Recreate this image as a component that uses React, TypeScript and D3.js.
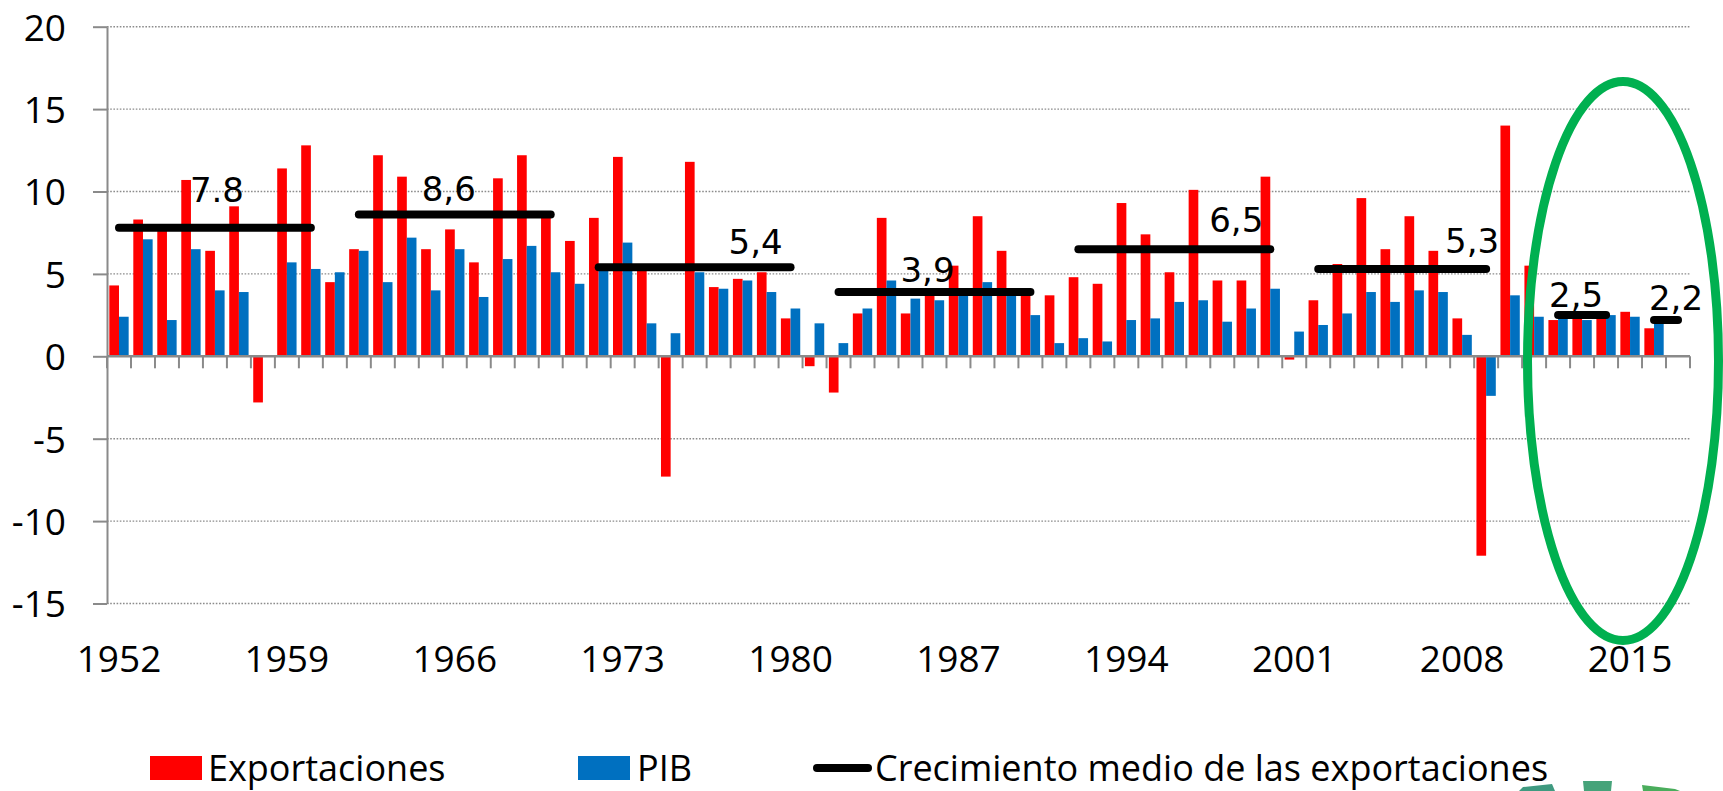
import React, { useRef, useEffect } from "react"
import * as d3 from "d3"

// categories
const years = [
  "1952", "1953", "1954", "1955", "1956", "1957", "1958", "1959", "1960", "1961",
  "1962", "1963", "1964", "1965", "1966", "1967", "1968", "1969", "1970", "1971",
  "1972", "1973", "1974", "1975", "1976", "1977", "1978", "1979", "1980", "1981",
  "1982", "1983", "1984", "1985", "1986", "1987", "1988", "1989", "1990", "1991",
  "1992", "1993", "1994", "1995", "1996", "1997", "1998", "1999", "2000", "2001",
  "2002", "2003", "2004", "2005", "2006", "2007", "2008", "2009", "2010", "2011",
  "2012", "2013", "2014", "2015", "2016", "2017",
]

// series values (% growth)
const exportaciones: (number | null)[] = [
  4.3, 8.3, 7.6, 10.7, 6.4, 9.1, -2.8, 11.4, 12.8, 4.5,
  6.5, 12.2, 10.9, 6.5, 7.7, 5.7, 10.8, 12.2, 8.4, 7.0,
  8.4, 12.1, 5.2, -7.3, 11.8, 4.2, 4.7, 5.1, 2.3, -0.6,
  -2.2, 2.6, 8.4, 2.6, 3.7, 5.5, 8.5, 6.4, 3.7, 3.7,
  4.8, 4.4, 9.3, 7.4, 5.1, 10.1, 4.6, 4.6, 10.9, -0.2,
  3.4, 5.6, 9.6, 6.5, 8.5, 6.4, 2.3, -12.1, 14.0, 5.5,
  2.2, 2.3, 2.3, 2.7, 1.7, null,
]

const pib: (number | null)[] = [
  2.4, 7.1, 2.2, 6.5, 4.0, 3.9, null, 5.7, 5.3, 5.1,
  6.4, 4.5, 7.2, 4.0, 6.5, 3.6, 5.9, 6.7, 5.1, 4.4,
  5.2, 6.9, 2.0, 1.4, 5.1, 4.1, 4.6, 3.9, 2.9, 2.0,
  0.8, 2.9, 4.6, 3.5, 3.4, 3.7, 4.5, 3.8, 2.5, 0.8,
  1.1, 0.9, 2.2, 2.3, 3.3, 3.4, 2.1, 2.9, 4.1, 1.5,
  1.9, 2.6, 3.9, 3.3, 4.0, 3.9, 1.3, -2.4, 3.7, 2.4,
  2.3, 2.2, 2.5, 2.4, 2.0, null,
]

// average export growth per period
const mediaInicio = ["1952", "1962", "1972", "1982", "1992", "2002", "2012", "2016"]
const mediaFin = ["1960", "1970", "1980", "1990", "2000", "2009", "2014", "2017"]
const mediaValor = [7.8, 8.6, 5.4, 3.9, 6.5, 5.3, 2.5, 2.2]
const mediaEtiqueta = ["7.8", "8,6", "5,4", "3,9", "6,5", "5,3", "2,5", "2,2"]
const mediaEtiquetaAnio = ["1956", "1966", "1979", "1986", "1999", "2008", "2013", "2017"]

// tick labels
const yTicks = [-15, -10, -5, 0, 5, 10, 15, 20]
const xTickLabels = ["1952", "1959", "1966", "1973", "1980", "1987", "1994", "2001", "2008", "2015"]

const legendLabels = ["Exportaciones", "PIB", "Crecimiento medio de las exportaciones"]

// label nudges (layout only), [dx, dy from line]
const labelNudge = [[2, -26], [-6, -14], [-11, -13], [-7, -10], [-10, -17], [10, -16], [-6, -8], [-2, -10]]

const W = 1723
const H = 791
const RED = "#FF0000"
const BLUE = "#0070C0"
const GRID = "#8c8c8c"
const AXIS = "#8a8a8a"
const FONT = "'Open Sans', 'Noto Sans', sans-serif"
const LABEL_FONT = "'DejaVu Sans', Verdana, sans-serif"

const ExportChart: React.FC = () => {
  const svgRef = useRef<SVGSVGElement | null>(null)

  useEffect(() => {
    if (!svgRef.current) return
    const svg = d3.select(svgRef.current)
    svg.selectAll("*").remove()

    const left = 107
    const right = 1690
    const top = 26.7
    const bottom = 603.5

    const x = d3.scaleBand<string>().domain(years).range([left, right]).padding(0)
    const xInner = d3
      .scaleBand<string>()
      .domain(["exp", "pib"])
      .range([0, x.bandwidth()])
      .paddingInner(0)
      .paddingOuter(0.24)
    const y = d3.scaleLinear().domain([-15, 20]).range([bottom, top])
    const cx = (yr: string) => (x(yr) || 0) + x.bandwidth() / 2

    svg.append("rect").attr("width", W).attr("height", H).attr("fill", "#fff")

    // gridlines
    svg
      .append("g")
      .selectAll("line")
      .data(yTicks.filter((t) => t !== 0))
      .join("line")
      .attr("x1", left)
      .attr("x2", right)
      .attr("y1", (d) => y(d))
      .attr("y2", (d) => y(d))
      .attr("stroke", GRID)
      .attr("stroke-width", 1.4)
      .attr("stroke-dasharray", "1.6 1.6")

    // y axis
    const yAxis = svg
      .append("g")
      .attr("transform", `translate(${left},0)`)
      .call(d3.axisLeft(y).tickValues(yTicks).tickSize(14).tickSizeOuter(0).tickFormat((d) => String(d)))
    yAxis.select(".domain").attr("stroke", AXIS).attr("stroke-width", 2)
    yAxis.selectAll(".tick line").attr("stroke", AXIS).attr("stroke-width", 2)
    yAxis
      .selectAll(".tick text")
      .attr("x", -41)
      .attr("dy", "0.36em")
      .style("font-family", FONT)
      .style("font-size", "37px")
      .attr("fill", "#000")

    // bars
    const bars = svg.append("g")
    bars
      .selectAll("rect.exp")
      .data(years.map((yr, i) => ({ yr, v: exportaciones[i] })).filter((d) => d.v !== null))
      .join("rect")
      .attr("class", "exp")
      .attr("x", (d) => (x(d.yr) || 0) + (xInner("exp") || 0))
      .attr("width", xInner.bandwidth())
      .attr("y", (d) => y(Math.max(0, d.v as number)))
      .attr("height", (d) => Math.abs(y(d.v as number) - y(0)))
      .attr("fill", RED)
    bars
      .selectAll("rect.pib")
      .data(years.map((yr, i) => ({ yr, v: pib[i] })).filter((d) => d.v !== null))
      .join("rect")
      .attr("class", "pib")
      .attr("x", (d) => (x(d.yr) || 0) + (xInner("pib") || 0))
      .attr("width", xInner.bandwidth())
      .attr("y", (d) => y(Math.max(0, d.v as number)))
      .attr("height", (d) => Math.abs(y(d.v as number) - y(0)))
      .attr("fill", BLUE)

    // x axis at zero with ticks at category boundaries
    const xAxis = svg.append("g")
    xAxis
      .append("line")
      .attr("x1", left)
      .attr("x2", right)
      .attr("y1", y(0))
      .attr("y2", y(0))
      .attr("stroke", AXIS)
      .attr("stroke-width", 2.5)
    const boundaries = years.map((yr) => x(yr) || 0).concat([right])
    xAxis
      .selectAll("line.tk")
      .data(boundaries)
      .join("line")
      .attr("class", "tk")
      .attr("x1", (d) => d)
      .attr("x2", (d) => d)
      .attr("y1", y(0))
      .attr("y2", y(0) + 12)
      .attr("stroke", AXIS)
      .attr("stroke-width", 2)

    svg
      .append("g")
      .selectAll("text")
      .data(xTickLabels)
      .join("text")
      .attr("x", (d) => cx(d))
      .attr("y", 672)
      .attr("text-anchor", "middle")
      .style("font-family", FONT)
      .style("font-size", "37px")
      .attr("fill", "#000")
      .text((d) => d)

    // average lines
    const line = d3
      .line<[string, number]>()
      .x((d) => cx(d[0]))
      .y((d) => y(d[1]))
    const medias = svg.append("g")
    mediaValor.forEach((v, i) => {
      medias
        .append("path")
        .datum([[mediaInicio[i], v], [mediaFin[i], v]] as [string, number][])
        .attr("d", line)
        .attr("fill", "none")
        .attr("stroke", "#000")
        .attr("stroke-width", 8)
        .attr("stroke-linecap", "round")
    })
    medias
      .selectAll("text")
      .data(mediaEtiqueta)
      .join("text")
      .attr("x", (d, i) => cx(mediaEtiquetaAnio[i]) + labelNudge[i][0])
      .attr("y", (d, i) => y(mediaValor[i]) + labelNudge[i][1])
      .attr("text-anchor", "middle")
      .style("font-family", LABEL_FONT)
      .style("font-size", "34px")
      .attr("fill", "#000")
      .text((d) => d)

    // green highlight ellipse
    svg
      .append("ellipse")
      .attr("cx", 1623)
      .attr("cy", 361)
      .attr("rx", 95.5)
      .attr("ry", 279.5)
      .attr("fill", "none")
      .attr("stroke", "#00B050")
      .attr("stroke-width", 9)

    // logo fragments at the bottom edge
    const frags = [
      { pts: "1519,791 1523,787 1552,784 1555,791", c: "#3f9a80" },
      { pts: "1583,781 1612,781 1611,791 1584,791", c: "#46a37a" },
      { pts: "1642,785 1675,789 1680,791 1643,791", c: "#4aad5c" },
    ]
    svg
      .append("g")
      .selectAll("polygon")
      .data(frags)
      .join("polygon")
      .attr("points", (d) => d.pts)
      .attr("fill", (d) => d.c)

    // legend
    const legend = svg.append("g")
    legend.append("rect").attr("x", 150).attr("y", 756).attr("width", 52).attr("height", 24).attr("fill", RED)
    legend.append("rect").attr("x", 578).attr("y", 756).attr("width", 52).attr("height", 24).attr("fill", BLUE)
    legend
      .append("line")
      .attr("x1", 817)
      .attr("x2", 868)
      .attr("y1", 768)
      .attr("y2", 768)
      .attr("stroke", "#000")
      .attr("stroke-width", 8)
      .attr("stroke-linecap", "round")
    const legendX = [208, 637, 875]
    legend
      .selectAll("text")
      .data(legendLabels)
      .join("text")
      .attr("x", (d, i) => legendX[i])
      .attr("y", 781)
      .style("font-family", FONT)
      .style("font-size", "36px")
      .attr("fill", "#000")
      .text((d) => d)
  }, [])

  return (
    <svg
      ref={svgRef}
      width={W}
      height={H}
      style={{ position: "absolute", left: 0, top: 0, display: "block" }}
    ></svg>
  )
}

export default function App() {
  return <ExportChart />
}
